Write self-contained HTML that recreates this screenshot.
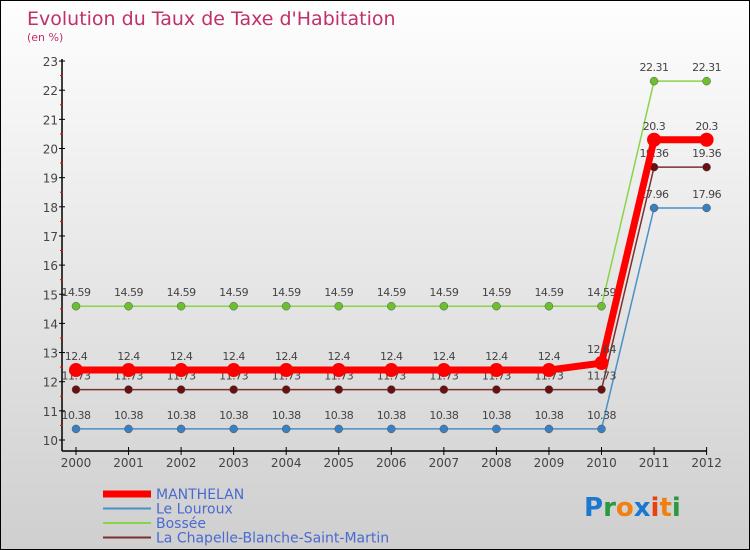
<!DOCTYPE html>
<html><head><meta charset="utf-8"><style>
body{margin:0}
#c{width:750px;height:550px;position:relative;background:linear-gradient(#fefefe,#cfcfcf);border:1px solid #000;box-sizing:border-box;font-family:"DejaVu Sans","Liberation Sans",sans-serif;overflow:hidden}
</style></head><body>
<div id="c">
<svg id="s" width="750" height="550"></svg>
</div>
<script>
const years=[2000,2001,2002,2003,2004,2005,2006,2007,2008,2009,2010,2011,2012];
const manthelan=[12.4,12.4,12.4,12.4,12.4,12.4,12.4,12.4,12.4,12.4,12.64,20.3,20.3];
const louroux=[10.38,10.38,10.38,10.38,10.38,10.38,10.38,10.38,10.38,10.38,10.38,17.96,17.96];
const bossee=[14.59,14.59,14.59,14.59,14.59,14.59,14.59,14.59,14.59,14.59,14.59,22.31,22.31];
const chapelle=[11.73,11.73,11.73,11.73,11.73,11.73,11.73,11.73,11.73,11.73,11.73,19.36,19.36];
const yTicks=[10,11,12,13,14,15,16,17,18,19,20,21,22,23];
const names=["MANTHELAN","Le Louroux","Bossée","La Chapelle-Blanche-Saint-Martin"];
const NS="http://www.w3.org/2000/svg";
const s=document.getElementById('s');
const X=i=>75+i*52.55, Y=v=>439-(v-10)*29.15;
function el(t,a,p){const e=document.createElementNS(NS,t);for(const k in a)e.setAttribute(k,a[k]);(p||s).appendChild(e);return e;}
function tx(x,y,str,a){const e=el('text',Object.assign({x:x,y:y},a));e.textContent=str;return e;}
let t=tx(26,24,"Evolution du Taux de Taxe d'Habitation",{'font-size':19,fill:'#c0306a'});

t=tx(26,40,"(en %)",{'font-size':11,fill:'#c0306a'});

let ax=el('line',{x1:61,y1:58,x2:61,y2:450,stroke:'#000','stroke-width':1.5});

ax=el('line',{x1:61,y1:450,x2:706,y2:450,stroke:'#000','stroke-width':1.5});

yTicks.forEach(v=>{el('line',{x1:58,y1:Y(v),x2:64,y2:Y(v),stroke:'#000'});
 if(v<23)el('line',{x1:59,y1:Y(v+0.5),x2:62,y2:Y(v+0.5),stroke:'#f00'});
 const l=tx(57,Y(v)+5,v,{'font-size':12,fill:'#444','text-anchor':'end'});
 });
years.forEach((y,i)=>{el('line',{x1:X(i),y1:446,x2:X(i),y2:454,stroke:'#000'});
 const l=tx(X(i),466,y,{'font-size':12,fill:'#444','text-anchor':'middle'});
 });
const series=[[louroux,'#4a90c8',1.5,4,'#3a80c0'],[bossee,'#8ad44a',1.5,4,'#6cc030'],[chapelle,'#7a3030',1.5,4,'#6a1010'],[manthelan,'#f00',7,7,'#f00']];
const snames=['le-louroux','bossee','la-chapelle','manthelan'];
series.forEach((sr,k)=>{const [d,c,w,r,fc]=sr;
 const g=el('g',{});
 el('polyline',{points:d.map((v,i)=>X(i)+','+Y(v)).join(' '),fill:'none',stroke:c,'stroke-width':w},g);
 d.forEach((v,i)=>{const p=el('circle',{cx:X(i),cy:Y(v),r:r,fill:fc,stroke:k==3?'none':'#555','stroke-width':0.5},g);
  
  const l=tx(X(i),Y(v)-10,String(v).replace(/\.?0+$/,''),{'font-size':11,fill:'#444','text-anchor':'middle','letter-spacing':'-0.5'},g);
  });
});
const leg=[['#f00',7,'MANTHELAN'],['#4a90c8',2,'Le Louroux'],['#8ad44a',2,'Bossée'],['#7a3030',2,'La Chapelle-Blanche-Saint-Martin']];
leg.forEach((e,i)=>{const g=el('g',{});
 const y=493+i*14.5;el('line',{x1:102,y1:y,x2:150,y2:y,stroke:e[0],'stroke-width':e[1]},g);
 tx(155,y+5,e[2],{'font-size':14,fill:'#4a6ad0'},g);});
const lg=el('text',{x:583,y:515,'font-size':26,'font-family':'"DejaVu Sans",sans-serif','font-weight':'bold'});

[['P','#1a78d0'],['r','#2a9a40'],['o','#f08010'],['x','#1a78d0'],['i','#e84010'],['t','#f08010'],['i','#2a9a40']].forEach(a=>{const sp=el('tspan',{fill:a[1]},lg);sp.textContent=a[0];});
</script>
</body></html>
